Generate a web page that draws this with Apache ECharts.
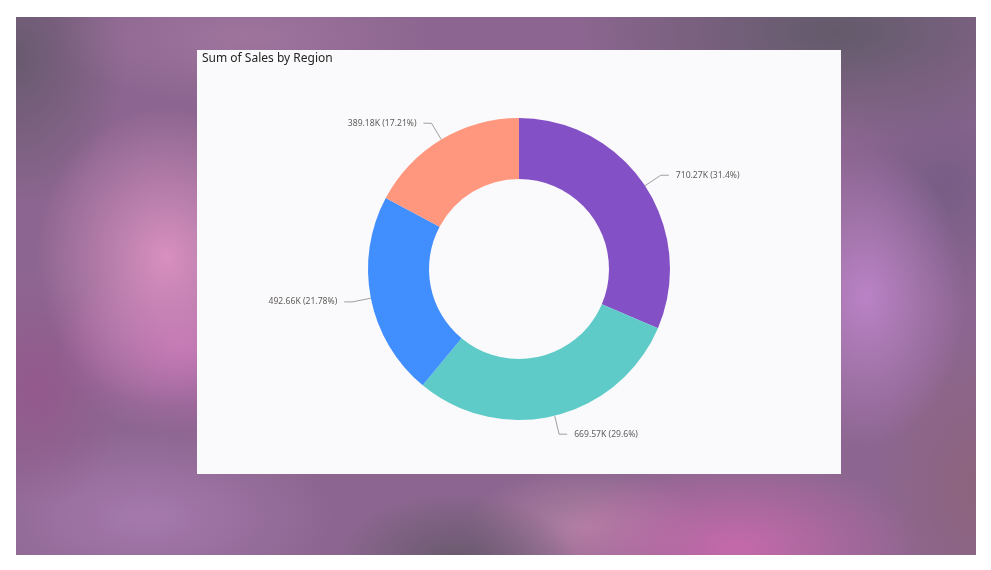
<!DOCTYPE html>
<html>
<head>
<meta charset="utf-8">
<script src="https://cdn.jsdelivr.net/npm/echarts@6/dist/echarts.min.js"></script>
<style>
  html, body { margin: 0; padding: 0; background: #ffffff; }
  #bg {
    position: absolute; left: 16px; top: 17px; width: 960px; height: 538px;
    background:
      radial-gradient(ellipse 130px 150px at 150px 240px, rgba(220,146,194,0.95), rgba(220,146,194,0) 100%),
      radial-gradient(ellipse 130px 90px at 170px 330px, rgba(200,112,184,0.75), rgba(200,112,184,0) 100%),
      radial-gradient(ellipse 100px 150px at 850px 280px, rgba(188,132,200,0.95), rgba(188,132,200,0) 100%),
      radial-gradient(ellipse 120px 70px at 440px 545px, rgba(104,90,108,1), rgba(104,90,108,0) 100%),
      radial-gradient(ellipse 190px 90px at 720px 530px, rgba(200,106,172,0.95), rgba(200,106,172,0) 100%),
      radial-gradient(ellipse 120px 60px at 570px 510px, rgba(190,140,170,0.7), rgba(190,140,170,0) 100%),
      radial-gradient(ellipse 190px 70px at 230px 20px, rgba(160,118,158,0.9), rgba(160,118,158,0) 100%),
      radial-gradient(ellipse 260px 110px at 820px 15px, rgba(98,90,106,1), rgba(98,90,106,0) 100%),
      radial-gradient(ellipse 110px 150px at 0px 40px, rgba(104,90,110,1), rgba(104,90,110,0) 100%),
      radial-gradient(ellipse 90px 120px at 20px 370px, rgba(148,88,140,0.9), rgba(148,88,140,0) 100%),
      radial-gradient(ellipse 190px 90px at 130px 500px, rgba(166,122,174,0.95), rgba(166,122,174,0) 100%),
      radial-gradient(ellipse 100px 160px at 960px 470px, rgba(140,100,124,0.95), rgba(140,100,124,0) 100%),
      radial-gradient(ellipse 110px 120px at 930px 170px, rgba(118,92,132,0.9), rgba(118,92,132,0) 100%),
      #8c6690;
  }
  #chart { position: absolute; left: 0; top: 0; width: 991px; height: 570px; }
</style>
</head>
<body>
<div id="bg"></div>
<div id="chart"></div>
<script>
const title = 'Sum of Sales by Region';
const regions = ['West', 'East', 'Central', 'South'];
const sales = [710.27, 669.57, 492.66, 389.18]; // thousands
const colors = ['#8350C5', '#5ECBC8', '#418EFF', '#FF977E'];

const total = sales.reduce((a, b) => a + b, 0);
function fmtPct(v) {
  const p = v / total * 100;
  return String(parseFloat(p.toFixed(2))) + '%';
}

const chart = echarts.init(document.getElementById('chart'), null, { renderer: 'canvas' });
chart.setOption({
  backgroundColor: 'transparent',
  animation: false,
  graphic: [
    { type: 'rect', left: 197, top: 50, z: -10,
      shape: { width: 644, height: 424 },
      style: { fill: '#FAF9FB' } }
  ],
  title: {
    text: title, left: 197, top: 48,
    textStyle: { fontFamily: 'Noto Sans', fontSize: 12, fontWeight: 'normal', color: '#252423' }
  },
  series: [{
    type: 'pie',
    center: [519, 269],
    radius: [90, 151],
    startAngle: 90,
    clockwise: true,
    avoidLabelOverlap: false,
    data: regions.map((r, i) => ({ name: r, value: sales[i], itemStyle: { color: colors[i] } })),
    label: {
      show: true,
      position: 'outside',
      formatter: p => p.value.toFixed(2) + 'K (' + fmtPct(p.value) + ')',
      fontFamily: 'Noto Sans', fontSize: 8.6, color: '#605E5C',
      padding: [5, 2, 0, 2]
    },
    labelLine: { show: true, length: 19, length2: 8, lineStyle: { color: '#A19F9D', width: 1 } },
    emphasis: { disabled: true }
  }]
});
</script>
</body>
</html>
